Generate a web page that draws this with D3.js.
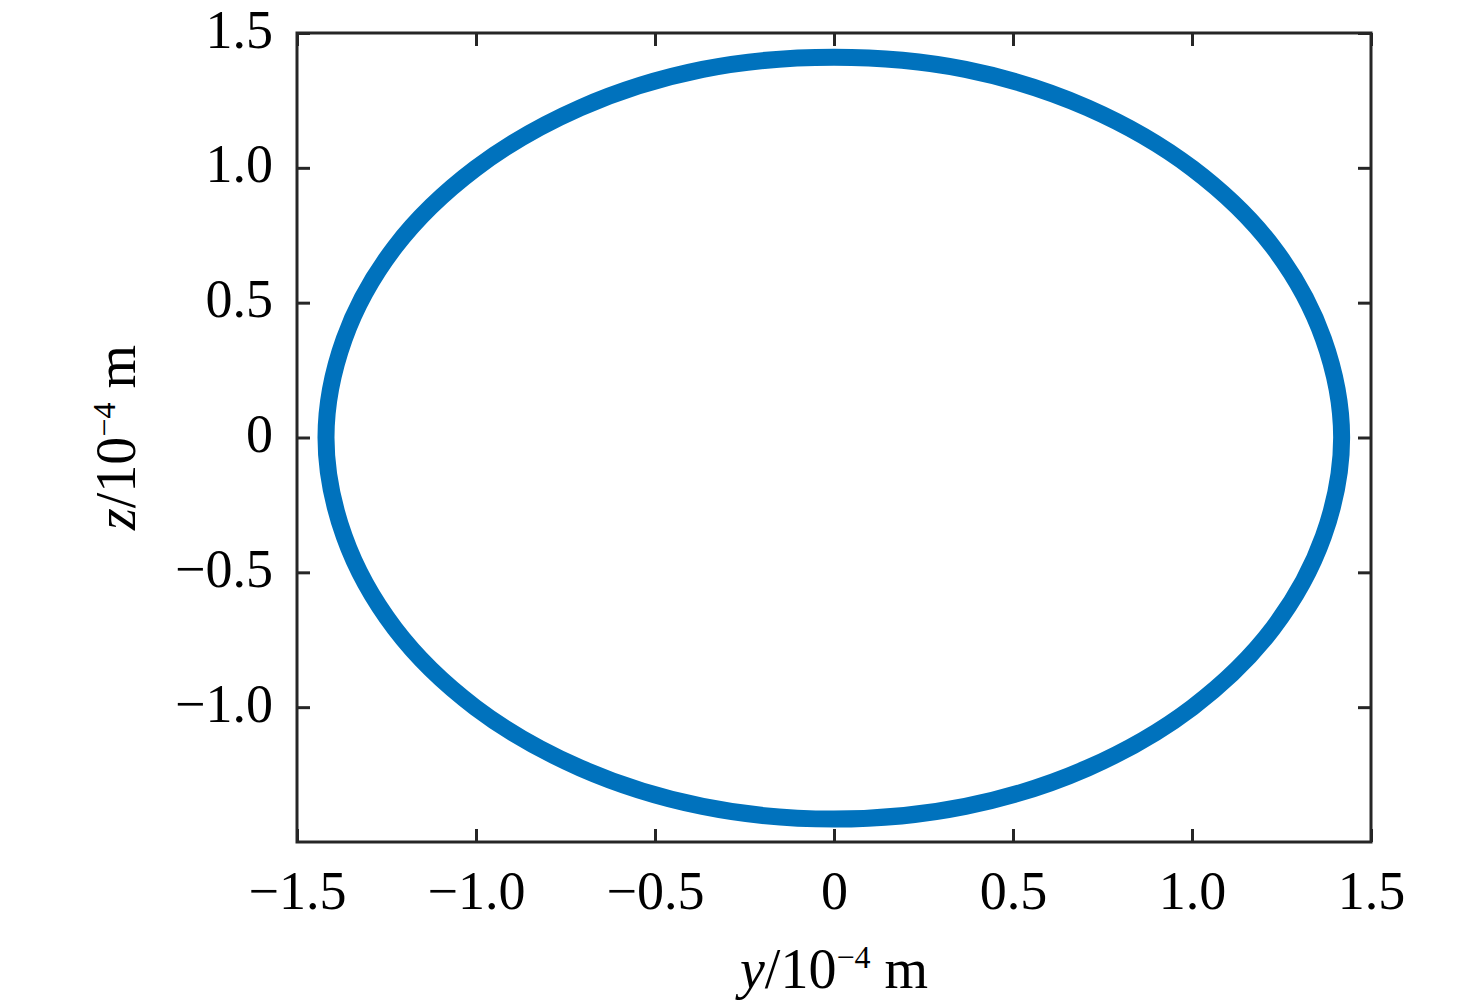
<!DOCTYPE html>
<head>
	<meta charset="utf-8" />
	<style>
		body {
			margin: 0;
			background: #fff;
		}
		svg text {
			font-family: 'Liberation Serif', 'Times New Roman', serif;
			fill: #000;
		}
	</style>
</head>
<body>
	<div id="chart-area"></div>
	<script src="https://cdnjs.cloudflare.com/ajax/libs/d3/7.8.5/d3.min.js"></script>
	<script>
		// orbit points, in 1e-4 m
		var yVals = [1.418, 1.367, 1.226, 1.001, 0.708, 0.367, 0, -0.367, -0.708, -1.001, -1.226, -1.368,
			-1.419, -1.368, -1.227, -1.002, -0.708, -0.367, 0, 0.367, 0.708, 1.001, 1.226, 1.367];
		var zVals = [0, 0.366, 0.707, 0.998, 1.223, 1.365, 1.41, 1.365, 1.223, 0.998, 0.707, 0.366,
			0, -0.367, -0.708, -1.001, -1.226, -1.368, -1.415, -1.368, -1.226, -1.001, -0.708, -0.367];

		var xTicks = [-1.5, -1.0, -0.5, 0, 0.5, 1.0, 1.5];
		var xTickLabels = ['\u22121.5', '\u22121.0', '\u22120.5', '0', '0.5', '1.0', '1.5'];
		var yTicks = [-1.0, -0.5, 0, 0.5, 1.0, 1.5];
		var yTickLabels = ['\u22121.0', '\u22120.5', '0', '0.5', '1.0', '1.5'];

		var width = 1476, height = 1007;
		var margins = { top: 33, left: 297, right: 105, bottom: 165 };
		var fs = 54;

		var svg = d3.select('#chart-area')
			.append('svg')
			.attr('width', width)
			.attr('height', height);

		var x = d3.scaleLinear().domain([-1.5, 1.5]).range([margins.left, width - margins.right]);
		var y = d3.scaleLinear().domain([-1.5, 1.5]).range([height - margins.bottom, margins.top]);

		var points = yVals.map((v, i) => [v, zVals[i]]);

		var line = d3.line()
			.x(d => x(d[0]))
			.y(d => y(d[1]))
			.curve(d3.curveCatmullRomClosed.alpha(0.5));

		svg.append('path')
			.datum(points)
			.attr('d', line)
			.attr('fill', 'none')
			.attr('stroke', '#0072BD')
			.attr('stroke-width', 17);

		var fmtX = d => xTickLabels[xTicks.indexOf(d)];
		var fmtY = d => yTickLabels[yTicks.indexOf(d)];

		function styleAxis(g) {
			g.select('.domain').remove();
			g.selectAll('.tick line').attr('stroke', '#262626').attr('stroke-width', 3);
			g.selectAll('text').attr('font-size', fs);
		}

		svg.append('g')
			.attr('transform', `translate(0,${y(-1.5)})`)
			.call(d3.axisBottom(x).tickValues(xTicks).tickFormat(fmtX).tickSizeInner(-13).tickSizeOuter(0).tickPadding(29))
			.call(styleAxis);

		svg.append('g')
			.attr('transform', `translate(0,${y(1.5)})`)
			.call(d3.axisTop(x).tickValues(xTicks).tickFormat('').tickSizeInner(-13).tickSizeOuter(0))
			.call(styleAxis);

		svg.append('g')
			.attr('transform', `translate(${x(-1.5)},0)`)
			.call(d3.axisLeft(y).tickValues(yTicks).tickFormat(fmtY).tickSizeInner(-13).tickSizeOuter(0).tickPadding(24))
			.call(styleAxis)
			.selectAll('text').attr('dy', '0.26em');

		svg.append('g')
			.attr('transform', `translate(${x(1.5)},0)`)
			.call(d3.axisRight(y).tickValues(yTicks).tickFormat('').tickSizeInner(-13).tickSizeOuter(0))
			.call(styleAxis);

		// frame
		svg.append('rect')
			.attr('x', x(-1.5))
			.attr('y', y(1.5))
			.attr('width', x(1.5) - x(-1.5))
			.attr('height', y(-1.5) - y(1.5))
			.attr('fill', 'none')
			.attr('stroke', '#262626')
			.attr('stroke-width', 3);

		function axisLabel(t, name) {
			t.append('tspan').attr('font-style', 'italic').text(name);
			t.append('tspan').text('/10');
			t.append('tspan').attr('font-size', 32).attr('dy', -20).text('\u22124');
			t.append('tspan').attr('dy', 20).text(' m');
		}

		svg.append('text')
			.attr('x', x(0))
			.attr('y', 988)
			.attr('text-anchor', 'middle')
			.attr('font-size', 56)
			.call(axisLabel, 'y');

		svg.append('text')
			.attr('transform', `translate(135,${y(0)}) rotate(-90)`)
			.attr('text-anchor', 'middle')
			.attr('font-size', 56)
			.call(axisLabel, 'z');
	</script>
</body>
